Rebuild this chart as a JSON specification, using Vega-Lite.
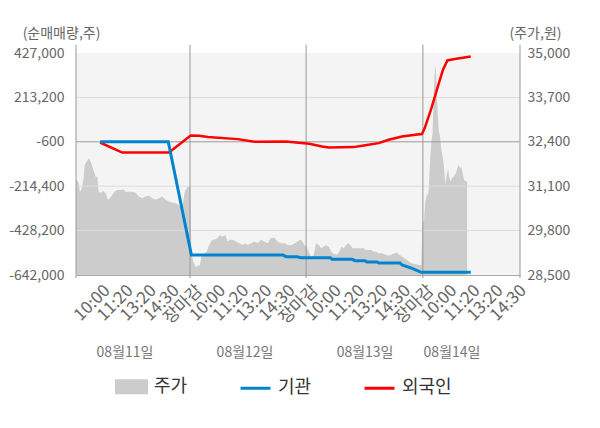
{
  "$schema": "https://vega.github.io/schema/vega-lite/v6.json",
  "width": 444,
  "height": 222,
  "autosize": "none",
  "padding": {"left": 76, "top": 53, "right": 80, "bottom": 153},
  "background": "#ffffff",
  "config": {
    "font": "Noto Sans CJK KR",
    "view": {"fill": "#f4f4f4", "stroke": null},
    "axis": {
      "labelFont": "Noto Sans CJK KR",
      "titleFont": "Noto Sans CJK KR",
      "labelColor": "#666666",
      "titleColor": "#666666",
      "labelFontSize": 14,
      "titleFontSize": 14,
      "titleFontWeight": "normal",
      "ticks": false,
      "grid": false,
      "domain": false
    },
    "legend": {"labelFont": "Noto Sans CJK KR"}
  },
  "datasets": {
    "price": [
      {"t": 0, "price": 31310}, {"t": 0.12, "price": 31200}, {"t": 0.17, "price": 30940}, {"t": 0.23, "price": 30990},
      {"t": 0.32, "price": 31290}, {"t": 0.38, "price": 31730}, {"t": 0.46, "price": 31820}, {"t": 0.56, "price": 31920},
      {"t": 0.66, "price": 31780}, {"t": 0.75, "price": 31580}, {"t": 0.85, "price": 31380}, {"t": 0.92, "price": 31380},
      {"t": 0.98, "price": 30940}, {"t": 1.07, "price": 30910}, {"t": 1.18, "price": 30960}, {"t": 1.28, "price": 30900},
      {"t": 1.38, "price": 30700}, {"t": 1.47, "price": 30750}, {"t": 1.57, "price": 30850}, {"t": 1.67, "price": 30940},
      {"t": 1.79, "price": 30990}, {"t": 1.93, "price": 30990}, {"t": 2.05, "price": 31010}, {"t": 2.14, "price": 30940},
      {"t": 2.29, "price": 30940}, {"t": 2.43, "price": 30940}, {"t": 2.58, "price": 30910}, {"t": 2.72, "price": 30800},
      {"t": 2.87, "price": 30750}, {"t": 3.01, "price": 30800}, {"t": 3.16, "price": 30820}, {"t": 3.3, "price": 30750},
      {"t": 3.45, "price": 30700}, {"t": 3.59, "price": 30750}, {"t": 3.73, "price": 30800}, {"t": 3.88, "price": 30700},
      {"t": 4.02, "price": 30650}, {"t": 4.16, "price": 30620}, {"t": 4.31, "price": 30600}, {"t": 4.45, "price": 30550},
      {"t": 4.54, "price": 30460}, {"t": 4.64, "price": 30650}, {"t": 4.7, "price": 30940}, {"t": 4.79, "price": 31050},
      {"t": 4.86, "price": 31090}, {"t": 4.94, "price": 31070},
      {"t": 4.99, "price": 29150}, {"t": 5.07, "price": 28890}, {"t": 5.16, "price": 28740}, {"t": 5.26, "price": 28760},
      {"t": 5.36, "price": 28790}, {"t": 5.42, "price": 29040}, {"t": 5.55, "price": 29120}, {"t": 5.65, "price": 29180},
      {"t": 5.76, "price": 29380}, {"t": 5.88, "price": 29530}, {"t": 5.98, "price": 29530}, {"t": 6.13, "price": 29580},
      {"t": 6.23, "price": 29670}, {"t": 6.34, "price": 29620}, {"t": 6.46, "price": 29670}, {"t": 6.56, "price": 29480},
      {"t": 6.66, "price": 29530}, {"t": 6.78, "price": 29530}, {"t": 6.92, "price": 29480}, {"t": 7.06, "price": 29430},
      {"t": 7.21, "price": 29380}, {"t": 7.32, "price": 29430}, {"t": 7.42, "price": 29380}, {"t": 7.57, "price": 29430},
      {"t": 7.71, "price": 29480}, {"t": 7.86, "price": 29430}, {"t": 8.0, "price": 29530}, {"t": 8.14, "price": 29480},
      {"t": 8.29, "price": 29430}, {"t": 8.43, "price": 29580}, {"t": 8.58, "price": 29580}, {"t": 8.72, "price": 29480},
      {"t": 8.86, "price": 29430}, {"t": 9.01, "price": 29430}, {"t": 9.15, "price": 29380}, {"t": 9.33, "price": 29380},
      {"t": 9.47, "price": 29430}, {"t": 9.64, "price": 29510}, {"t": 9.74, "price": 29530}, {"t": 9.87, "price": 29380},
      {"t": 9.98, "price": 29330},
      {"t": 10.06, "price": 29180}, {"t": 10.13, "price": 29090}, {"t": 10.21, "price": 28990}, {"t": 10.28, "price": 29090},
      {"t": 10.38, "price": 29430}, {"t": 10.5, "price": 29380}, {"t": 10.61, "price": 29280}, {"t": 10.71, "price": 29330},
      {"t": 10.81, "price": 29380}, {"t": 10.93, "price": 29330}, {"t": 11.04, "price": 29180}, {"t": 11.14, "price": 29120},
      {"t": 11.29, "price": 29090}, {"t": 11.39, "price": 29180}, {"t": 11.47, "price": 29330}, {"t": 11.58, "price": 29280},
      {"t": 11.68, "price": 29380}, {"t": 11.76, "price": 29430}, {"t": 11.86, "price": 29380}, {"t": 11.97, "price": 29280},
      {"t": 12.08, "price": 29280}, {"t": 12.19, "price": 29280}, {"t": 12.29, "price": 29280}, {"t": 12.44, "price": 29280},
      {"t": 12.54, "price": 29230}, {"t": 12.66, "price": 29230}, {"t": 12.77, "price": 29230}, {"t": 12.87, "price": 29180},
      {"t": 12.97, "price": 29180}, {"t": 13.09, "price": 29140}, {"t": 13.23, "price": 29140}, {"t": 13.38, "price": 29090},
      {"t": 13.52, "price": 29060}, {"t": 13.63, "price": 29090}, {"t": 13.78, "price": 29140}, {"t": 13.87, "price": 29160},
      {"t": 13.98, "price": 29090}, {"t": 14.1, "price": 29040}, {"t": 14.21, "price": 28990}, {"t": 14.31, "price": 28940},
      {"t": 14.41, "price": 28890}, {"t": 14.53, "price": 28840}, {"t": 14.67, "price": 28820}, {"t": 14.82, "price": 28790},
      {"t": 14.93, "price": 28790},
      {"t": 14.98, "price": 30020}, {"t": 15.05, "price": 30110}, {"t": 15.1, "price": 30600}, {"t": 15.18, "price": 30900},
      {"t": 15.22, "price": 30800}, {"t": 15.26, "price": 31090}, {"t": 15.31, "price": 31820}, {"t": 15.36, "price": 32360},
      {"t": 15.42, "price": 32650}, {"t": 15.47, "price": 33830}, {"t": 15.51, "price": 34410}, {"t": 15.54, "price": 34660},
      {"t": 15.58, "price": 34220}, {"t": 15.62, "price": 33530}, {"t": 15.68, "price": 32750}, {"t": 15.74, "price": 32560},
      {"t": 15.8, "price": 32170}, {"t": 15.86, "price": 31970}, {"t": 15.91, "price": 31680}, {"t": 15.97, "price": 31140},
      {"t": 16.03, "price": 31430}, {"t": 16.09, "price": 31580}, {"t": 16.14, "price": 31380}, {"t": 16.2, "price": 31240},
      {"t": 16.26, "price": 31340}, {"t": 16.32, "price": 31380}, {"t": 16.38, "price": 31430}, {"t": 16.43, "price": 31480},
      {"t": 16.49, "price": 31630}, {"t": 16.55, "price": 31730}, {"t": 16.61, "price": 31630}, {"t": 16.66, "price": 31680},
      {"t": 16.72, "price": 31480}, {"t": 16.78, "price": 31290}, {"t": 16.84, "price": 31240}, {"t": 16.91, "price": 31240}
    ],
    "flow": [
      {"t": 1.04, "series": "외국인", "qty": -4000},
      {"t": 2.0, "series": "외국인", "qty": -52300},
      {"t": 4.02, "series": "외국인", "qty": -52300},
      {"t": 4.96, "series": "외국인", "qty": 29700},
      {"t": 5.33, "series": "외국인", "qty": 28200},
      {"t": 5.7, "series": "외국인", "qty": 22000},
      {"t": 6.99, "series": "외국인", "qty": 12300},
      {"t": 7.71, "series": "외국인", "qty": -700},
      {"t": 9.08, "series": "외국인", "qty": 700},
      {"t": 9.51, "series": "외국인", "qty": -4100},
      {"t": 10.09, "series": "외국인", "qty": -10300},
      {"t": 10.64, "series": "외국인", "qty": -23400},
      {"t": 10.93, "series": "외국인", "qty": -28200},
      {"t": 12.01, "series": "외국인", "qty": -26200},
      {"t": 12.44, "series": "외국인", "qty": -18500},
      {"t": 13.09, "series": "외국인", "qty": -7000},
      {"t": 13.52, "series": "외국인", "qty": 9000},
      {"t": 14.1, "series": "외국인", "qty": 24900},
      {"t": 14.67, "series": "외국인", "qty": 33100},
      {"t": 14.96, "series": "외국인", "qty": 36400},
      {"t": 15.08, "series": "외국인", "qty": 65400},
      {"t": 15.37, "series": "외국인", "qty": 161800},
      {"t": 15.65, "series": "외국인", "qty": 266000},
      {"t": 15.87, "series": "외국인", "qty": 346500},
      {"t": 16.06, "series": "외국인", "qty": 391300},
      {"t": 16.38, "series": "외국인", "qty": 398100},
      {"t": 17.07, "series": "외국인", "qty": 410600},
      {"t": 1.04, "series": "기관", "qty": -600},
      {"t": 3.99, "series": "기관", "qty": -600},
      {"t": 4.99, "series": "기관", "qty": -545600},
      {"t": 8.94, "series": "기관", "qty": -545600},
      {"t": 9.08, "series": "기관", "qty": -553800},
      {"t": 9.55, "series": "기관", "qty": -553800},
      {"t": 9.73, "series": "기관", "qty": -559000},
      {"t": 11.0, "series": "기관", "qty": -559000},
      {"t": 11.07, "series": "기관", "qty": -566300},
      {"t": 11.94, "series": "기관", "qty": -566300},
      {"t": 12.06, "series": "기관", "qty": -573000},
      {"t": 12.5, "series": "기관", "qty": -573000},
      {"t": 12.58, "series": "기관", "qty": -579300},
      {"t": 13.02, "series": "기관", "qty": -579300},
      {"t": 13.1, "series": "기관", "qty": -584100},
      {"t": 14.01, "series": "기관", "qty": -584100},
      {"t": 14.1, "series": "기관", "qty": -593800},
      {"t": 14.53, "series": "기관", "qty": -609700},
      {"t": 14.93, "series": "기관", "qty": -629000},
      {"t": 17.07, "series": "기관", "qty": -629000}
    ],
    "grid": [{"qty": 213200}, {"qty": -214400}, {"qty": -428200}],
    "days": [{"t": 0}, {"t": 4.93}, {"t": 9.95}, {"t": 15.0}, {"t": 19.2}],
    "dates": [
      {"t": 2.12, "label": "08월11일"},
      {"t": 7.31, "label": "08월12일"},
      {"t": 12.5, "label": "08월13일"},
      {"t": 16.26, "label": "08월14일"}
    ]
  },
  "resolve": {"scale": {"y": "independent"}},
  "layer": [
    {
      "data": {"name": "price"},
      "mark": {"type": "area", "interpolate": "linear"},
      "encoding": {
        "x": {
          "field": "t",
          "type": "quantitative",
          "scale": {"domain": [0, 19.2], "nice": false, "zero": false},
          "axis": {
            "values": [1, 2, 3, 4, 5, 6, 7, 8, 9, 10, 11, 12, 13, 14, 15, 16, 17, 18, 19],
            "tickCount": 40,
            "labelExpr": "['장마감','10:00','11:20','13:20','14:30'][datum.value % 5]",
            "labelAngle": -45,
            "labelPadding": 7,
            "labelOffset": 2,
            "labelFontSize": 17,
            "labelOverlap": false,
            "domain": true,
            "domainColor": "#aaaaaa",
            "title": null,
            "encode": {
              "labels": {
                "update": {
                  "fill": {"signal": "datum.value % 5 === 0 ? '#ff0000' : (datum.value === 16 ? '#222222' : '#666666')"}
                }
              }
            }
          }
        },
        "y": {
          "field": "price",
          "type": "quantitative",
          "scale": {"domain": [28500, 35000], "nice": false, "zero": false},
          "axis": {
            "orient": "right",
            "values": [28500, 29800, 31100, 32400, 33700, 35000],
            "labelExpr": "format(datum.value, ',')",
            "labelPadding": 7,
            "title": "(주가,원)",
            "titleAngle": 0,
            "titleAlign": "center",
            "titleBaseline": "middle",
            "titleX": 15,
            "titleY": -20
          }
        },
        "y2": {"datum": 28500},
        "color": {
          "datum": "주가",
          "type": "nominal",
          "title": null,
          "scale": {"domain": ["주가", "기관", "외국인"], "range": ["#cccccc", "#0084cf", "#ff0000"]},
          "legend": {
            "orient": "none",
            "legendX": 39,
            "legendY": 317,
            "direction": "horizontal",
            "title": null,
            "labelFontSize": 18,
            "labelColor": "#333333",
            "symbolSize": 900,
            "gridAlign": "all",
            "columnPadding": 30,
            "labelOffset": 6,
            "encode": {
              "symbols": {
                "update": {
                  "shape": {"signal": "datum.value === '주가' ? 'M-1,-0.4H1V0.4H-1Z' : 'M-1,0H1'"},
                  "fill": {"signal": "datum.value === '주가' ? '#cccccc' : 'transparent'"},
                  "stroke": {"signal": "datum.value === '주가' ? 'transparent' : (datum.value === '기관' ? '#0084cf' : '#ff0000')"},
                  "strokeWidth": {"value": 3},
                  "opacity": {"value": 1}
                }
              }
            }
          }
        }
      }
    },
    {
      "layer": [
        {
          "data": {"name": "grid"},
          "mark": {"type": "rule", "color": "#dddddd", "strokeWidth": 1},
          "encoding": {
            "y": {"field": "qty", "type": "quantitative", "scale": {"domain": [-642000, 427000], "nice": false, "zero": false}}
          }
        },
        {
          "data": {"values": [{}]},
          "mark": {"type": "rule", "color": "#999999", "strokeWidth": 1},
          "encoding": {
            "y": {"datum": -600, "type": "quantitative", "scale": {"domain": [-642000, 427000], "nice": false, "zero": false}}
          }
        },
        {
          "data": {"name": "days"},
          "mark": {"type": "rule", "color": "#999999", "strokeWidth": 1},
          "encoding": {
            "x": {"field": "t", "type": "quantitative"},
            "y": {"datum": 467000, "type": "quantitative", "scale": {"domain": [-642000, 427000], "nice": false, "zero": false}},
            "y2": {"datum": -656500}
          }
        },
        {
          "data": {"name": "flow"},
          "transform": [{"filter": "datum.series === '외국인'"}],
          "mark": {"type": "line", "strokeWidth": 2.5},
          "encoding": {
            "x": {"field": "t", "type": "quantitative"},
            "y": {
              "field": "qty",
              "type": "quantitative",
              "scale": {"domain": [-642000, 427000], "nice": false, "zero": false},
              "axis": {
                "orient": "left",
                "values": [427000, 213200, -600, -214400, -428200, -642000],
                "labelExpr": "replace(format(datum.value, ','), '\u2212', '-')",
                "labelPadding": 12,
                "title": "(순매매량,주)",
                "titleAngle": 0,
                "titleAlign": "center",
                "titleBaseline": "middle",
                "titleX": -15,
                "titleY": -20
              }
            },
            "color": {"field": "series", "type": "nominal", "title": null}
          }
        },
        {
          "data": {"name": "flow"},
          "transform": [{"filter": "datum.series === '기관'"}],
          "mark": {"type": "line", "strokeWidth": 3},
          "encoding": {
            "x": {"field": "t", "type": "quantitative"},
            "y": {"field": "qty", "type": "quantitative", "scale": {"domain": [-642000, 427000], "nice": false, "zero": false}},
            "color": {"field": "series", "type": "nominal", "title": null}
          }
        },
        {
          "data": {"name": "dates"},
          "mark": {"type": "text", "dy": 78, "fontSize": 14, "color": "#777777", "align": "center", "baseline": "middle"},
          "encoding": {
            "x": {"field": "t", "type": "quantitative"},
            "y": {"datum": -642000, "type": "quantitative", "scale": {"domain": [-642000, 427000], "nice": false, "zero": false}},
            "text": {"field": "label"}
          }
        }
      ]
    }
  ]
}
